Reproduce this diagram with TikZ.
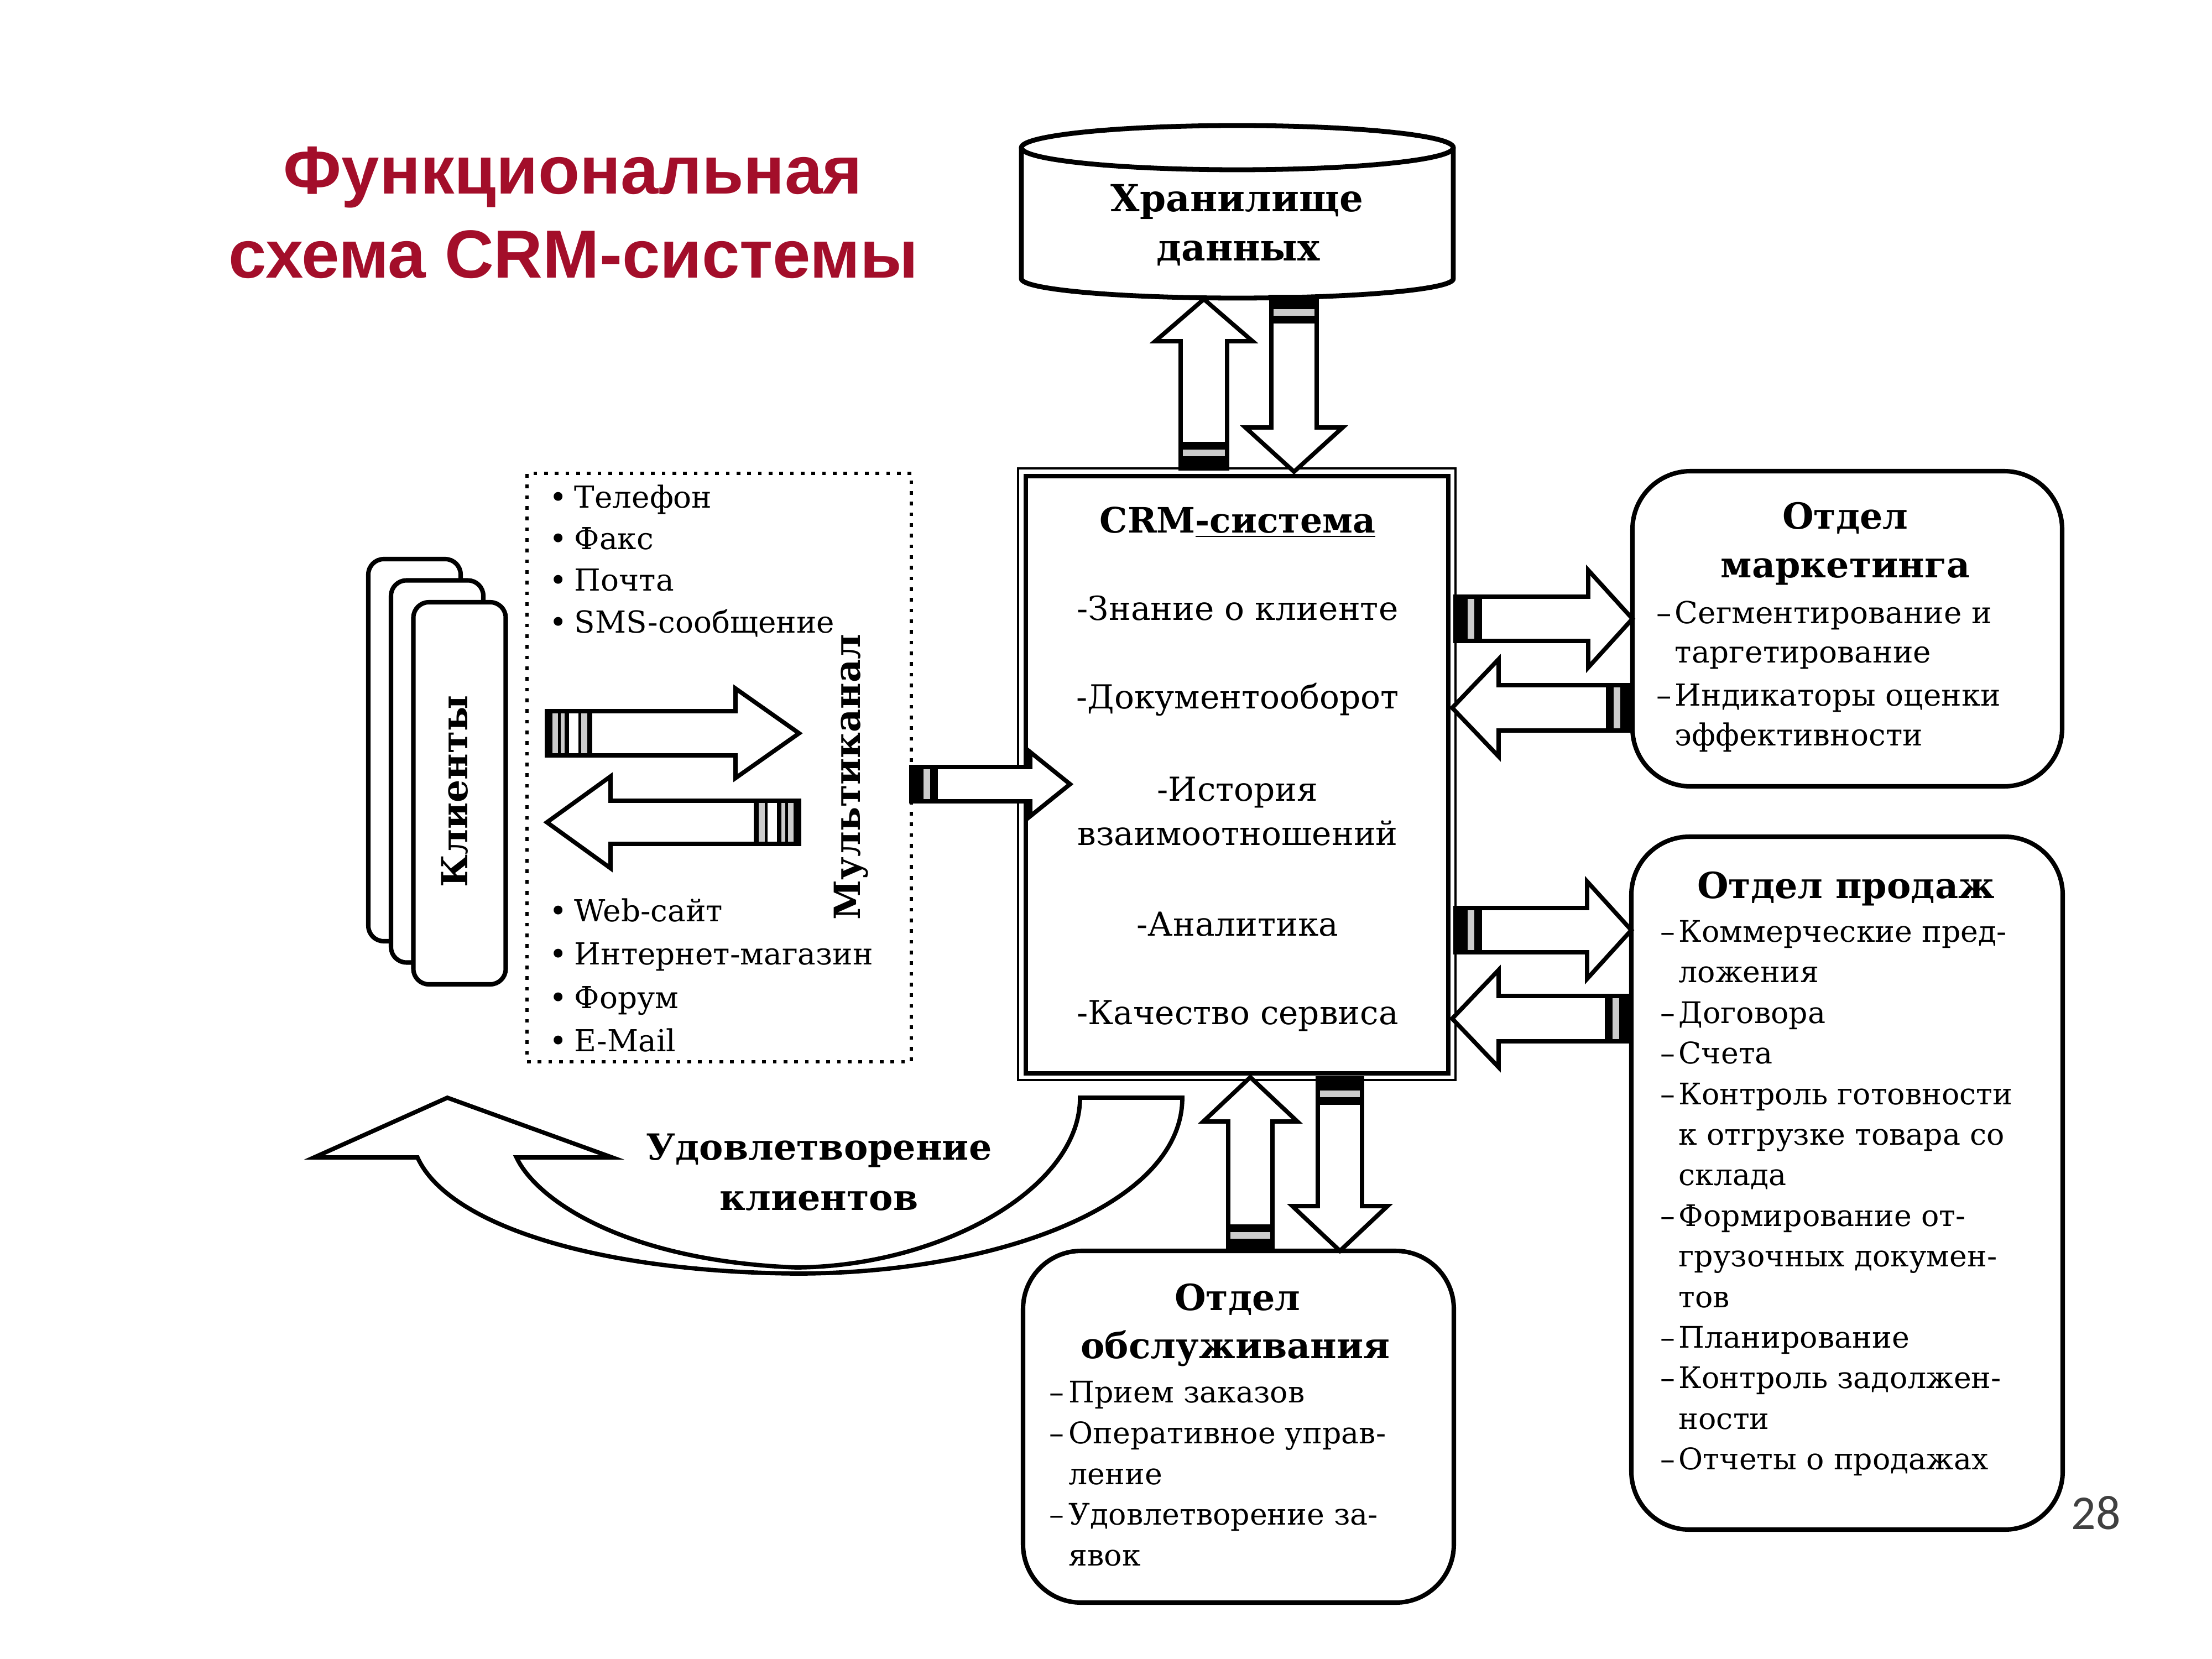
\documentclass[tikz,border=0pt]{standalone}
\usepackage{fontspec}
\setmainfont{DejaVu Serif}
\newfontfamily\titlefont{Liberation Sans}
\newfontfamily\numfont{Carlito}
\usetikzlibrary{calc}
\definecolor{titlered}{RGB}{163,14,42}
\newdimen\badx \newdimen\bady
\def\tailB{0/0.22, 0.34/0.48}
\def\tailBg{0.22/0.34}
\def\tailA{0/0.10, 0.20/0.25, 0.32/0.40, 0.57/0.62, 0.73/0.82}
\def\tailAg{0.10/0.20, 0.25/0.32, 0.62/0.73}
\makeatletter
\newcommand\blockarrow[7]{%
  \pgfpointdiff{\pgfpointanchor{#1}{center}}{\pgfpointanchor{#2}{center}}%
  \global\badx=\pgf@x \global\bady=\pgf@y
  \pgfmathsetmacro\balen{veclen(\badx,\bady)}%
  \pgfmathsetmacro\baang{atan2(\bady,\badx)}%
  \begin{scope}[shift={(#1)}, rotate=\baang]
    \draw[arr] (0cm,-#3cm) -- ({\balen pt-#5cm},-#3cm) -- ({\balen pt-#5cm},-#4cm) -- ({\balen pt},0cm) -- ({\balen pt-#5cm},#4cm) -- ({\balen pt-#5cm},#3cm) -- (0cm,#3cm) -- cycle;
    \foreach \a/\b in #6 {\fill[black] (\a cm,{-#3cm-0.04cm}) rectangle (\b cm,{#3cm+0.04cm});}
    \foreach \a/\b in #7 {\fill[gray!40] (\a cm,{-#3cm+0.04cm}) rectangle (\b cm,{#3cm-0.04cm});}
  \end{scope}}
\makeatother
\tikzset{
  ttl/.style={anchor=base, inner sep=0pt, text=titlered, font=\titlefont\bfseries\fontsize{35}{40}\selectfont},
  lbl/.style={inner sep=0pt, font=\fontsize{18.5}{22}\selectfont\bfseries},
  crmitem/.style={inner sep=0pt, anchor=base, font=\fontsize{17}{20}\selectfont},
  item/.style={inner sep=0pt, anchor=base west, font=\fontsize{15.3}{18}\selectfont},
  dept/.style={draw, line width=2.3pt, rounded corners=1.05cm, fill=white, inner sep=0pt},
  client/.style={draw, line width=2.3pt, rounded corners=0.28cm, fill=white, inner sep=0pt, minimum width=1.67cm, minimum height=6.91cm},
  cyl/.style={draw, line width=2.5pt, fill=white},
  arr/.style={draw, fill=white, line width=2.2pt, line join=miter, miter limit=10},
  dotbox/.style={draw, line width=1.9pt, dash pattern=on 1.9pt off 3.6pt, inner sep=0pt}
}
\begin{document}
\begin{tikzpicture}[x=1cm,y=1cm]
\useasboundingbox (0,0) rectangle (40,-30);
\fill[white] (0,0) rectangle (40,-30);

% title
\node[ttl] (title1) at (10.36,-3.51) {Функциональная};
\node[ttl] (title2) at (10.37,-5.03) {схема CRM-системы};

% storage
\draw[cyl] (18.47,-2.67) -- (18.47,-5.04) arc[start angle=180,end angle=360,x radius=3.905,y radius=0.35] -- (26.28,-2.67);
\draw[cyl] (22.375,-2.67) ellipse[x radius=3.905,y radius=0.40];
\node[lbl, anchor=base, font=\fontsize{19.2}{22}\selectfont\bfseries] (storage1) at (22.37,-3.83) {Хранилище};
\node[lbl, anchor=base, font=\fontsize{19.2}{22}\selectfont\bfseries] (storage2) at (22.39,-4.72) {данных};
\coordinate (stA) at (21.77,-5.41);
\coordinate (stB) at (23.40,-5.37);

% CRM system
\node[draw, line width=1.2pt, fill=white, minimum width=7.91cm, minimum height=11.06cm, inner sep=0pt] (crm) at (22.365,-14.0) {};
\draw[line width=2.4pt] ($(crm.south west)+(0.16,0.14)$) rectangle ($(crm.north east)+(-0.15,-0.16)$);
\node[crmitem, font=\fontsize{18}{20}\selectfont\bfseries] (crmt) at (22.38,-9.64) {CRM\underline{-система}};
\node[crmitem] (k1) at (22.38,-11.21) {-Знание о клиенте};
\node[crmitem] (k2) at (22.38,-12.81) {-Документооборот};
\node[crmitem] (k3) at (22.38,-14.48) {-История};
\node[crmitem] (k4) at (22.38,-15.28) {взаимоотношений};
\node[crmitem] (k5) at (22.38,-16.92) {-Аналитика};
\node[crmitem] (k6) at (22.38,-18.52) {-Качество сервиса};

% departments
\node[dept, minimum width=7.77cm, minimum height=5.70cm] (mkt) at (33.405,-11.37) {};
\node[dept, minimum width=7.80cm, minimum height=12.53cm] (sales) at (33.40,-21.395) {};
\node[dept, minimum width=7.79cm, minimum height=6.36cm] (serv) at (22.395,-25.80) {};

\node[lbl, anchor=base] (mkth1) at (33.37,-9.57) {Отдел};
\node[lbl, anchor=base] (mkth2) at (33.37,-10.44) {маркетинга};
\foreach \yy/\tt [count=\i] in {11.27/{\llap{–\hspace{0.06cm}}Сегментирование и}, 11.98/таргетирование, 12.76/{\llap{–\hspace{0.06cm}}Индикаторы оценки}, 13.48/эффективности}
  \node[item, font=\fontsize{15.6}{18}\selectfont] (mk\i) at (30.28,-\yy) {\tt};

\node[lbl, anchor=base] (salesh) at (33.38,-16.24) {Отдел продаж};
\foreach \yy/\tt [count=\i] in {17.03/{\llap{–\hspace{0.06cm}}Коммерческие пред-}, 17.76/ложения, 18.50/{\llap{–\hspace{0.06cm}}Договора}, 19.23/{\llap{–\hspace{0.06cm}}Счета}, 19.97/{\llap{–\hspace{0.06cm}}Контроль готовности}, 20.70/к отгрузке товара со, 21.43/склада, 22.17/{\llap{–\hspace{0.06cm}}Формирование от-}, 22.90/грузочных докумен-, 23.64/тов, 24.37/{\llap{–\hspace{0.06cm}}Планирование}, 25.10/{\llap{–\hspace{0.06cm}}Контроль задолжен-}, 25.84/ности, 26.57/{\llap{–\hspace{0.06cm}}Отчеты о продажах}}
  \node[item] (sl\i) at (30.35,-\yy) {\tt};

\node[lbl, anchor=base] (servh1) at (22.38,-23.69) {Отдел};
\node[lbl, anchor=base] (servh2) at (22.34,-24.56) {обслуживания};
\foreach \yy/\tt [count=\i] in {25.36/{\llap{–\hspace{0.08cm}}Прием заказов}, 26.10/{\llap{–\hspace{0.08cm}}Оперативное управ-}, 26.84/ление, 27.57/{\llap{–\hspace{0.08cm}}Удовлетворение за-}, 28.31/явок}
  \node[item] (sv\i) at (19.32,-\yy) {\tt};

% clients
\node[client] (cl1) at (7.495,-13.565) {};
\node[client] (cl2) at (7.905,-13.95) {};
\node[client] (cl3) at (8.31,-14.345) {};
\node[lbl, anchor=base, rotate=90] (clients) at (8.45,-14.31) {Клиенты};

% multichannel
\node[dotbox, minimum width=6.95cm, minimum height=10.64cm] (multi) at (13.005,-13.88) {};
\foreach \yy/\tt [count=\i] in {9.19/Телефон, 9.94/Факс, 10.69/Почта, 11.44/SMS-сообщение, 16.66/Web-сайт, 17.44/Интернет-магазин, 18.23/Форум, 19.01/E-Mail}
  \node[item, font=\fontsize{15.6}{18}\selectfont] (ch\i) at (10.38,-\yy) {\llap{•\hspace{0.13cm}}\tt};
\node[lbl, anchor=base, rotate=90] (multil) at (15.55,-14.05) {Мультиканал};

% arrows
\coordinate (a1t) at (21.77,-8.47);
\coordinate (a2h) at (23.40,-8.53);
\coordinate (m1t) at (26.32,-11.19);
\coordinate (m1h) at (29.52,-11.19);
\coordinate (m2t) at (29.52,-12.80);
\coordinate (m2h) at (26.26,-12.80);
\coordinate (s1t) at (26.32,-16.82);
\coordinate (s1h) at (29.50,-16.82);
\coordinate (s2t) at (29.50,-18.42);
\coordinate (s2h) at (26.26,-18.42);
\coordinate (v1t) at (22.61,-22.62);
\coordinate (v1h) at (22.61,-19.48);
\coordinate (v2t) at (24.23,-19.50);
\coordinate (v2h) at (24.23,-22.62);
\coordinate (x1t) at (16.48,-14.18);
\coordinate (x1h) at (19.35,-14.18);
\coordinate (i1t) at (9.89,-13.26);
\coordinate (i1h) at (14.45,-13.26);
\coordinate (i2t) at (14.45,-14.87);
\coordinate (i2h) at (9.89,-14.87);

\blockarrow{a1t}{stA}{0.42}{0.88}{0.76}{\tailB}{\tailBg}
\blockarrow{stB}{a2h}{0.41}{0.88}{0.80}{\tailB}{\tailBg}
\blockarrow{m1t}{m1h}{0.40}{0.88}{0.80}{\tailB}{\tailBg}
\blockarrow{m2t}{m2h}{0.41}{0.88}{0.84}{\tailB}{\tailBg}
\blockarrow{s1t}{s1h}{0.40}{0.88}{0.80}{\tailB}{\tailBg}
\blockarrow{s2t}{s2h}{0.41}{0.88}{0.84}{\tailB}{\tailBg}
\blockarrow{v1t}{v1h}{0.40}{0.85}{0.80}{\tailB}{\tailBg}
\blockarrow{v2t}{v2h}{0.40}{0.86}{0.81}{\tailB}{\tailBg}
\blockarrow{x1t}{x1h}{0.31}{0.58}{0.72}{\tailB}{\tailBg}
\blockarrow{i1t}{i1h}{0.40}{0.81}{1.15}{\tailA}{\tailAg}
\blockarrow{i2t}{i2h}{0.39}{0.83}{1.15}{\tailA}{\tailAg}

% satisfaction curved arrow
\draw[arr] (7.55,-20.93) .. controls (8.10,-22.15) and (10.80,-23.00) .. (14.40,-23.03)
  .. controls (18.00,-23.03) and (21.38,-21.80) .. (21.38,-19.85)
  -- (19.53,-19.85) .. controls (19.53,-21.50) and (17.00,-22.90) .. (14.40,-22.92)
  .. controls (11.30,-22.80) and (9.70,-21.70) .. (9.34,-20.93)
  -- (11.07,-20.93) -- (8.09,-19.85) -- (5.68,-20.93) -- cycle;
\node[lbl, anchor=base] (sat1) at (14.81,-20.97) {Удовлетворение};
\node[lbl, anchor=base] (sat2) at (14.81,-21.88) {клиентов};

% page number
\node[anchor=base, inner sep=0pt, text=black!75, font=\numfont\fontsize{25}{28}\selectfont] (pnum) at (37.90,-27.65) {28};
\end{tikzpicture}
\end{document}
